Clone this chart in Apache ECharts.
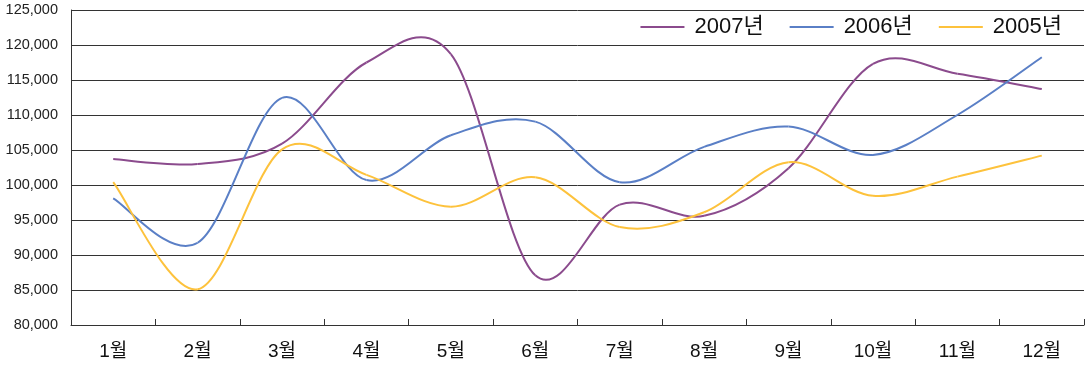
<!DOCTYPE html>
<html><head><meta charset="utf-8">
<script src="https://cdn.jsdelivr.net/npm/echarts@6/dist/echarts.min.js"></script>
<style>html,body{margin:0;padding:0;background:#fff}#c{width:1085px;height:366px}</style>
</head><body><div id="c"></div>
<script>
const months = ['1월','2월','3월','4월','5월','6월','7월','8월','9월','10월','11월','12월'];
const sales2007 = [103700, 103000, 105900, 117500, 118700, 87100, 97200, 95600, 102400, 117300, 115900, 113700];
const sales2006 = [98100, 91750, 112450, 100700, 107100, 109050, 100400, 105450, 108350, 104300, 110000, 118250];
const sales2005 = [100400, 85100, 105100, 101450, 96900, 101100, 94000, 96100, 103250, 98450, 101200, 104200];
const seriesNames = ['2007년', '2006년', '2005년'];
const seriesColors = ['#8B4B8D', '#5A7FC6', '#FDC23C'];
const yMin = 80000, yMax = 125000, yStep = 5000;

function splineSeries(name, values, color) {
  const n = values.length;
  const clampIdx = j => Math.max(0, Math.min(n - 1, j));
  return {
    type: 'custom', name: name, coordinateSystem: 'cartesian2d',
    data: values.map((v, i) => [i, v]),
    encode: { x: 0, y: 1 },
    itemStyle: { color: color },
    silent: true, clip: false,
    renderItem: function (params, api) {
      const i = params.dataIndex;
      if (i >= n - 1) return { type: 'group', children: [] };
      const pt = j => api.coord([clampIdx(j), values[clampIdx(j)]]);
      const p0 = pt(i - 1), p1 = pt(i), p2 = pt(i + 1), p3 = pt(i + 2);
      return {
        type: 'bezierCurve',
        shape: {
          x1: p1[0], y1: p1[1], x2: p2[0], y2: p2[1],
          cpx1: p1[0] + (p2[0] - p0[0]) / 6, cpy1: p1[1] + (p2[1] - p0[1]) / 6,
          cpx2: p2[0] - (p3[0] - p1[0]) / 6, cpy2: p2[1] - (p3[1] - p1[1]) / 6
        },
        style: { fill: 'none', stroke: color, lineWidth: 2 }
      };
    }
  };
}

const chart = echarts.init(document.getElementById('c'), null, { renderer: 'canvas' });
chart.setOption({
  animation: false,
  backgroundColor: '#fff',
  grid: { left: 71, right: 1, top: 10, bottom: 41, containLabel: false },
  legend: {
    right: 23, top: 16, padding: 0,
    itemWidth: 44, itemHeight: 2, itemGap: 26,
    itemStyle: { borderWidth: 0 },
    data: seriesNames.map(n => ({ name: n, icon: 'path://M0,0H44V2H0Z' })),
    textStyle: { fontSize: 22, color: '#111', fontFamily: 'Liberation Sans, Noto Sans CJK KR', padding: [0, 0, 0, 5] }
  },
  xAxis: {
    type: 'category', data: months, boundaryGap: true,
    axisLine: { lineStyle: { color: '#333', width: 1 } },
    axisTick: { show: true, inside: true, length: 6, lineStyle: { color: '#333' } },
    axisLabel: { fontSize: 19, color: '#111', margin: 17, fontFamily: 'Liberation Sans, Noto Sans CJK KR' },
    splitLine: { show: false }
  },
  yAxis: {
    type: 'value', min: yMin, max: yMax, interval: yStep,
    axisLine: { show: true, lineStyle: { color: '#333', width: 1 } },
    axisTick: { show: false },
    axisLabel: {
      fontSize: 14.5, color: '#222', margin: 13, fontFamily: 'Liberation Sans',
      formatter: v => v.toString().replace(/\B(?=(\d{3})+(?!\d))/g, ',')
    },
    splitLine: { lineStyle: { color: '#333', width: 1 } }
  },
  series: [
    splineSeries(seriesNames[0], sales2007, seriesColors[0]),
    splineSeries(seriesNames[1], sales2006, seriesColors[1]),
    splineSeries(seriesNames[2], sales2005, seriesColors[2])
  ]
});
</script>
</body></html>
